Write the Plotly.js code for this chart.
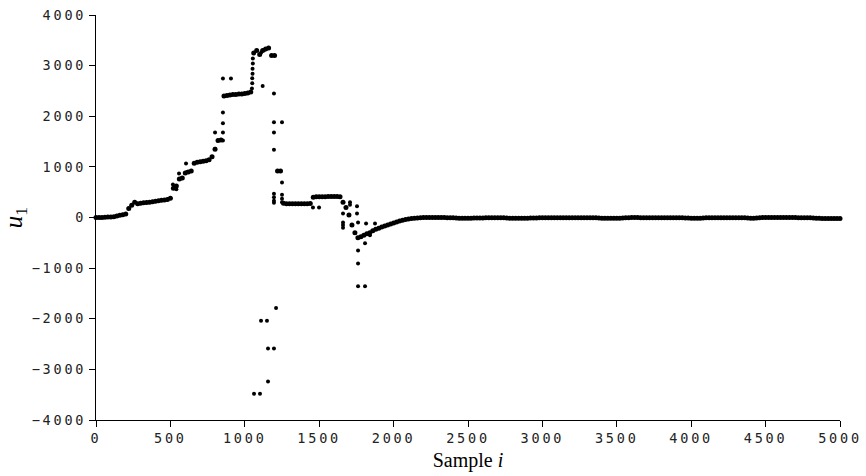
<!DOCTYPE html>
<html>
<head>
<meta charset="utf-8">
<script src="https://cdn.plot.ly/plotly-3.0.1.min.js"></script>
<style>
  html, body { margin: 0; padding: 0; background: #fff; }
  #chart { width: 866px; height: 476px; }
  .xtick text, .ytick text { letter-spacing: 2.8px; }
</style>
</head>
<body>
<div id="chart"></div>
<script>
// Main trace: sample index and u_1 value
const mainSamples = [
  0,20,40,60,80,100,120,140,160,180,200,220,240,260,280,300,320,340,360,380,
  400,420,440,460,480,500,520,540,560,580,600,620,640,660,680,700,720,740,760,780,
  800,820,840,860,880,900,920,940,960,980,1000,1020,1040,1060,1080,1100,1120,1140,1160,1180,
  1200,1220,1240,1260,1280,1300,1320,1340,1360,1380,1400,1420,1440,1460,1480,1500,1520,1540,1560,1580,
  1600,1620,1640,1660,1680,1700,1720,1740,1760,1780,1800,1820,1840,1860,1880,1900,1920,1940,1960,1980,
  2000,2020,2040,2060,2080,2100,2120,2140,2160,2180,2200,2220,2240,2260,2280,2300,2320,2340,2360,2380,
  2400,2420,2440,2460,2480,2500,2520,2540,2560,2580,2600,2620,2640,2660,2680,2700,2720,2740,2760,2780,
  2800,2820,2840,2860,2880,2900,2920,2940,2960,2980,3000,3020,3040,3060,3080,3100,3120,3140,3160,3180,
  3200,3220,3240,3260,3280,3300,3320,3340,3360,3380,3400,3420,3440,3460,3480,3500,3520,3540,3560,3580,
  3600,3620,3640,3660,3680,3700,3720,3740,3760,3780,3800,3820,3840,3860,3880,3900,3920,3940,3960,3980,
  4000,4020,4040,4060,4080,4100,4120,4140,4160,4180,4200,4220,4240,4260,4280,4300,4320,4340,4360,4380,
  4400,4420,4440,4460,4480,4500,4520,4540,4560,4580,4600,4620,4640,4660,4680,4700,4720,4740,4760,4780,
  4800,4820,4840,4860,4880,4900,4920,4940,4960,4980,5000
];
const mainValues = [
  0,0,2,5,8,10,15,30,45,55,
  70,180,240,300,270,280,290,295,300,310,
  320,330,340,345,355,380,580,620,760,780,
  880,900,920,1070,1090,1100,1110,1120,1140,1200,
  1350,1520,1530,2400,2410,2420,2430,2430,2440,2440,
  2450,2460,2480,3250,3300,3220,3300,3330,3350,3200,
  3200,920,920,280,270,270,270,270,270,270,
  270,270,275,400,410,410,410,410,415,415,
  415,415,410,300,200,50,-150,-300,-400,-380,
  -350,-320,-300,-260,-230,-210,-190,-170,-150,-130,
  -110,-90,-70,-55,-40,-30,-20,-15,-10,-5,
  0,0,0,0,0,0,0,0,-5,-5,
  -5,-10,-15,-15,-15,-15,-15,-10,-10,-10,
  -10,-5,-5,-5,-5,-5,-5,-5,-10,-15,
  -15,-15,-15,-15,-15,-15,-10,-10,-10,-5,
  -5,-5,-5,-5,-5,-5,-5,-5,-5,-5,
  -5,-5,-5,-5,-5,-5,-5,-5,-5,-10,
  -15,-15,-15,-15,-15,-15,-15,-10,-5,-5,
  0,0,0,-5,-5,-5,-5,-5,-5,-5,
  -5,-5,-5,-5,-5,-5,-5,-5,-10,-10,
  -15,-15,-15,-15,-10,-5,-5,-5,-5,-5,
  -5,-5,-5,-5,-5,-5,-5,-5,-5,-10,
  -15,-15,-10,-5,0,0,0,0,0,0,
  0,0,0,0,0,0,-5,-5,-5,-5,
  -5,-10,-15,-15,-20,-20,-20,-20,-20,-20,
  -20
];

// Isolated transient samples (outliers / transition dots)
const extraSamples = [
  517,540,558,570,605,612,
  800,800,853,853,853,853,853,907,
  1048,1050,1050,1052,1052,1054,1054,1110,1130,
  1120,1196,1196,1250,1196,1196,1250,1196,1196,1196,1196,1250,1250,1250,1232,
  1062,1102,1156,1109,1149,1156,1196,1210,
  1458,1499,
  1707,1754,1707,1660,1660,1660,1660,1754,1761,1815,1875,1808,1761,1761,1761,1808,1841
];
const extraValues = [
  650,560,870,770,1066,900,
  1680,1360,1680,1860,2075,1520,2745,2745,
  2550,2650,2750,2840,2940,3040,3140,3260,3310,
  2600,2450,1880,1880,1680,1340,690,470,400,330,290,450,370,300,920,
  -3480,-3480,-3240,-2040,-2040,-2590,-2590,-1790,
  200,200,
  300,220,250,80,-100,-150,-200,80,-100,-120,-120,-510,-650,-910,-1360,-1360,-350
];

const xTicks = [0,500,1000,1500,2000,2500,3000,3500,4000,4500,5000];
const yTicks = [-4000,-3000,-2000,-1000,0,1000,2000,3000,4000];

const traces = [
  {x: mainSamples, y: mainValues, type: 'scatter', mode: 'markers',
   marker: {color: '#000', size: 5}, cliponaxis: false, hoverinfo: 'skip'},
  {x: extraSamples, y: extraValues, type: 'scatter', mode: 'markers',
   marker: {color: '#000', size: 4}, cliponaxis: false, hoverinfo: 'skip'}
];

const tickFont = {family: 'DejaVu Sans Mono, monospace', size: 13.5, color: '#222'};

const layout = {
  width: 866, height: 476,
  margin: {l: 96, r: 26, t: 15, b: 56},
  paper_bgcolor: '#fff', plot_bgcolor: '#fff',
  showlegend: false,
  xaxis: {
    range: [0, 5000], tickvals: xTicks, ticktext: xTicks.map(String),
    showgrid: false, zeroline: false, showline: true, linecolor: '#000', linewidth: 1,
    ticks: 'outside', ticklen: 6, tickcolor: '#000', tickwidth: 1,
    tickfont: tickFont,
    title: {text: 'Sample <i>i</i>', font: {family: 'Liberation Serif, serif', size: 20, color: '#000'}, standoff: 7}
  },
  yaxis: {
    range: [-4000, 4000], tickvals: yTicks, ticktext: yTicks.map(v => v < 0 ? '\u2212' + Math.abs(v) : String(v)),
    showgrid: false, zeroline: false, showline: true, linecolor: '#000', linewidth: 1,
    ticks: 'outside', ticklen: 6, tickcolor: '#000', tickwidth: 1,
    tickfont: tickFont,
    title: {text: '<i>u</i><sub>1</sub>', font: {family: 'Liberation Serif, serif', size: 25, color: '#000'}, standoff: 8}
  }
};

Plotly.newPlot('chart', traces, layout, {staticPlot: true, displayModeBar: false});
</script>
</body>
</html>
